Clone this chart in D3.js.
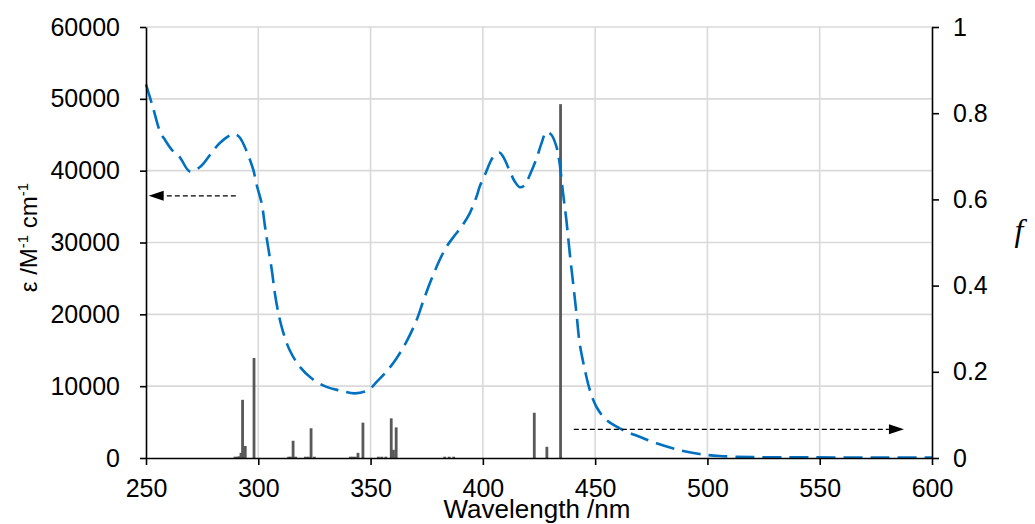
<!DOCTYPE html>
<html>
<head>
<meta charset="utf-8">
<script src="https://cdn.jsdelivr.net/npm/d3@7"></script>
<style>
  html, body { margin: 0; padding: 0; background: #ffffff; }
  svg { display: block; }
  text { font-family: "Liberation Sans", Arial, sans-serif; fill: #000; }
  text.f-title { font-family: "Liberation Serif", "Times New Roman", serif; font-style: italic; }
</style>
</head>
<body>
<svg id="chart" width="1035" height="524"></svg>
<script>
// Absorption spectrum (left axis, molar absorptivity)
const wavelength = [250,253,256.5,258,261.5,265,269.5,274,279,283,289,291.5,294,296.3,297.8,299.3,301.5,303,304,306,307.4,309,311,314,318.5,323.7,330.4,336.3,343,349,352.7,357,361.6,366,370.5,373.4,377,380.8,383.8,387.5,390.5,394.2,397.2,398.6,400.9,404.6,407.5,409.8,412,414.2,416.4,418.7,420.9,423.9,426.1,428.3,430.5,432.8,434.2,435.7,437.2,438.7,440.2,441.7,443.1,445.4,447.6,450.6,455,462.4,469.8,477.3,487.6,496.5,505.4,520,545,575,600];
const epsilon = [52000,48900,45200,44500,42900,41900,39900,40500,42400,43900,45100,44700,43300,41500,40100,38000,35450,32200,30100,26200,22900,20100,17600,15000,12700,11100,9900,9400,9000,9450,10600,12000,13900,16200,19200,21800,24800,27600,29400,31000,32200,34100,36400,37800,39400,41900,42500,41500,39900,38500,37700,38000,39400,41700,43800,45400,45000,43300,41000,36900,33100,28500,24300,20100,16000,12300,9500,7100,5300,3900,2950,2050,1100,560,280,120,100,50,50];

// Calculated transitions (right axis, oscillator strength)
const transitionWl = [289.6,290.6,291.5,292.3,293.0,294.2,298.1,313.5,314.5,315.5,316.6,321,322.3,323.5,325,341,342,343.2,344.4,346.6,353.5,355,356.8,359.2,360.2,361.4,383,385,387,422.9,428.5,434.6];
const oscStrength  = [0.003,0.003,0.004,0.012,0.135,0.028,0.232,0.003,0.003,0.040,0.003,0.003,0.003,0.069,0.003,0.003,0.003,0.003,0.012,0.082,0.003,0.003,0.003,0.092,0.019,0.071,0.003,0.003,0.003,0.105,0.026,0.821];

// Axis ticks
const xTicks = [250,300,350,400,450,500,550,600];
const epsTicks = [0,10000,20000,30000,40000,50000,60000];
const fTicks = [0,0.2,0.4,0.6,0.8,1];

// Arrows telling which axis each series belongs to
const epsArrow = { from: 290, to: 251.2, value: 36500 };   // points to the left axis
const fArrow = { from: 440.5, to: 587.5, value: 0.0665 };   // points to the right axis

const svg = d3.select("#chart");
const plotLeft = 146, plotRight = 932, plotTop = 27, plotBottom = 458;

const x = d3.scaleLinear().domain([250, 600]).range([plotLeft, plotRight]);
const yEps = d3.scaleLinear().domain([0, 60000]).range([plotBottom, plotTop]);
const yF = d3.scaleLinear().domain([0, 1]).range([plotBottom, plotTop]);

const gridColor = "#d9d9d9";

// Gridlines
svg.append("g").selectAll("line").data(epsTicks.filter(d => d > 0)).join("line")
  .attr("x1", plotLeft).attr("x2", plotRight)
  .attr("y1", d => yEps(d)).attr("y2", d => yEps(d))
  .attr("stroke", gridColor).attr("stroke-width", 1.6);
svg.append("g").selectAll("line").data(xTicks.filter(d => d > 250 && d < 600)).join("line")
  .attr("x1", d => x(d)).attr("x2", d => x(d))
  .attr("y1", plotTop).attr("y2", plotBottom)
  .attr("stroke", gridColor).attr("stroke-width", 1.6);

// Transition sticks
const sticks = transitionWl.map((w, i) => ({ w, f: oscStrength[i] }));
svg.append("g").selectAll("rect").data(sticks).join("rect")
  .attr("x", d => x(d.w) - 1.4)
  .attr("width", 2.8)
  .attr("y", d => yF(d.f))
  .attr("height", d => yF(0) - yF(d.f))
  .attr("fill", "#595959");

// Absorption curve
const spectrum = wavelength.map((w, i) => [w, epsilon[i]]);
const line = d3.line()
  .x(d => x(d[0]))
  .y(d => yEps(d[1]))
  .curve(d3.curveCatmullRom.alpha(0.5));
svg.append("path")
  .datum(spectrum)
  .attr("d", line)
  .attr("fill", "none")
  .attr("stroke", "#0070C0")
  .attr("stroke-width", 2.6)
  .attr("stroke-dasharray", "19,8");

// Arrows
function arrow(x1, x2, y, dir) {
  const head = 15, half = 5;
  const g = svg.append("g");
  g.append("line")
    .attr("x1", x1).attr("x2", x2 - dir * head).attr("y1", y).attr("y2", y)
    .attr("stroke", "#000").attr("stroke-width", 1.2)
    .attr("stroke-dasharray", "5,3");
  g.append("path")
    .attr("d", `M${x2},${y} L${x2 - dir * head},${y - half} L${x2 - dir * head},${y + half} Z`)
    .attr("fill", "#000");
}
arrow(x(epsArrow.from), x(epsArrow.to), yEps(epsArrow.value), -1);
arrow(x(fArrow.from), x(fArrow.to), yF(fArrow.value), 1);

// Axes
const fontSize = 25;
const xAxis = svg.append("g").attr("transform", `translate(0,${plotBottom})`)
  .call(d3.axisBottom(x).tickValues(xTicks).tickFormat(d3.format("d")).tickSize(7).tickSizeOuter(0).tickPadding(14));
const yAxisL = svg.append("g").attr("transform", `translate(${plotLeft},0)`)
  .call(d3.axisLeft(yEps).tickValues(epsTicks).tickFormat(d3.format("d")).tickSize(6).tickSizeOuter(0).tickPadding(20));
const yAxisR = svg.append("g").attr("transform", `translate(${plotRight},0)`)
  .call(d3.axisRight(yF).tickValues(fTicks).tickFormat(d => d === 0 || d === 1 ? d3.format("d")(d) : d3.format(".1f")(d)).tickSize(7).tickSizeOuter(0).tickPadding(14));

[xAxis, yAxisL, yAxisR].forEach(a => {
  a.select(".domain").attr("stroke", "#000").attr("stroke-width", 1.6);
  a.selectAll(".tick line").attr("stroke", "#000").attr("stroke-width", 1.6);
  a.selectAll(".tick text")
    .attr("font-size", fontSize).attr("fill", "#000");
});

// Axis titles
svg.append("text")
  .attr("x", (plotLeft + plotRight) / 2 - 2).attr("y", 518)
  .attr("text-anchor", "middle")
  .attr("font-size", 26)
  .text("Wavelength /nm");

const yTitle = svg.append("text")
  .attr("transform", `translate(37,${(plotTop + plotBottom) / 2 - 5}) rotate(-90)`)
  .attr("text-anchor", "middle")
  .attr("font-size", 24);
yTitle.append("tspan").text("ε /M");
yTitle.append("tspan").attr("font-size", 15).attr("dy", -9).text("-1");
yTitle.append("tspan").attr("dy", 9).text(" cm");
yTitle.append("tspan").attr("font-size", 15).attr("dy", -9).text("-1");

svg.append("text")
  .attr("class", "f-title")
  .attr("x", 1019).attr("y", 241)
  .attr("text-anchor", "middle")
  .attr("font-size", 32)
  .text("f");
</script>
</body>
</html>
